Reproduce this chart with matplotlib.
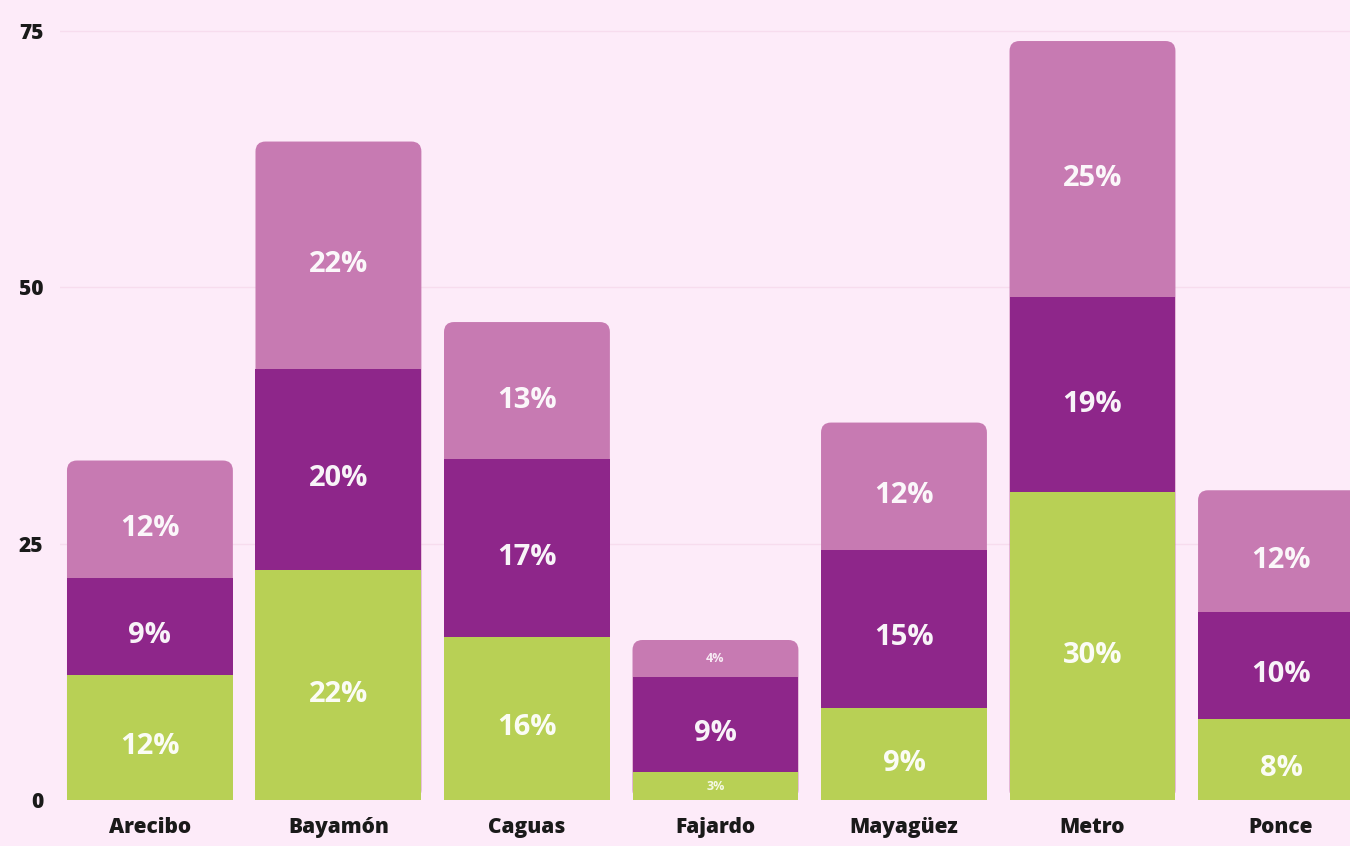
import numpy as np
import matplotlib.pyplot as plt
from matplotlib.patches import FancyBboxPatch

regions = ['Arecibo', 'Bayamón', 'Caguas', 'Fajardo', 'Mayagüez', 'Metro', 'Ponce']
green = [12.2, 22.4, 15.9, 2.7, 9.0, 30.0, 7.9]
purple = [9.4, 19.6, 17.3, 9.3, 15.4, 19.0, 10.4]
pink = [11.5, 22.2, 13.4, 3.6, 12.4, 25.0, 11.9]
yticks = [0, 25, 50, 75]

bg = '#FDEBF9'
c_green = '#B8D055'
c_purple = '#8E268A'
c_pink = '#C77AB2'

plt.rcParams['font.family'] = ['Open Sans', 'DejaVu Sans']

fig = plt.figure(figsize=(13.5, 8.46), dpi=100, facecolor=bg)
ax = fig.add_axes([60/1350, 46/846, 1290/1350, 800/846])
ax.set_facecolor(bg)

xlo, xhi = -0.477, 6.366
ylo, yhi = 0, 78.0
ax.set_xlim(xlo, xhi)
ax.set_ylim(ylo, yhi)

# pixels per data unit, for rounded corners
px_x = 1290 / (xhi - xlo)
px_y = 800 / (yhi - ylo)
aspect = px_x / px_y

x = np.arange(len(regions))
w = 0.88
green = np.array(green)
purple = np.array(purple)
pink = np.array(pink)
total = green + purple + pink

for gy in yticks[1:]:
    ax.axhline(gy, color='#F7DCEE', lw=1, zorder=0)

# top segment drawn full height with rounded corners, the others on top
for xi, t in zip(x, total):
    r = 10 / px_x
    p = FancyBboxPatch((xi - w/2, 0), w, t,
                       boxstyle='round,pad=0,rounding_size=%f' % r,
                       mutation_aspect=aspect, fc=c_pink, ec='none', zorder=2)
    ax.add_patch(p)
ax.bar(x, green, w, color=c_green, zorder=3)
ax.bar(x, purple, w, bottom=green, color=c_purple, zorder=3)

def label(xi, bottom, h):
    small = h < 5
    yoff = 0 if small else -0.9
    ax.text(xi, bottom + h/2 + yoff, f'{h:.0f}%', ha='center', va='center',
            color='white', fontsize=9 if small else 21, fontweight='bold',
            alpha=0.85 if small else 0.95, zorder=4)

for i in range(len(regions)):
    label(x[i], 0, green[i])
    label(x[i], green[i], purple[i])
    label(x[i], green[i] + purple[i], pink[i])

for s in ax.spines.values():
    s.set_visible(False)
ax.tick_params(length=0)
ax.set_xticks(x)
ax.set_xticklabels(regions, fontsize=15, fontweight='heavy', color='#1a1a1a')
ax.set_yticks(yticks)
ax.set_yticklabels([str(v) for v in yticks], fontsize=15, fontweight='heavy', color='#1a1a1a')
ax.tick_params(axis='x', pad=12)
ax.tick_params(axis='y', pad=12)

fig.savefig('out.png', dpi=100, facecolor=bg)
